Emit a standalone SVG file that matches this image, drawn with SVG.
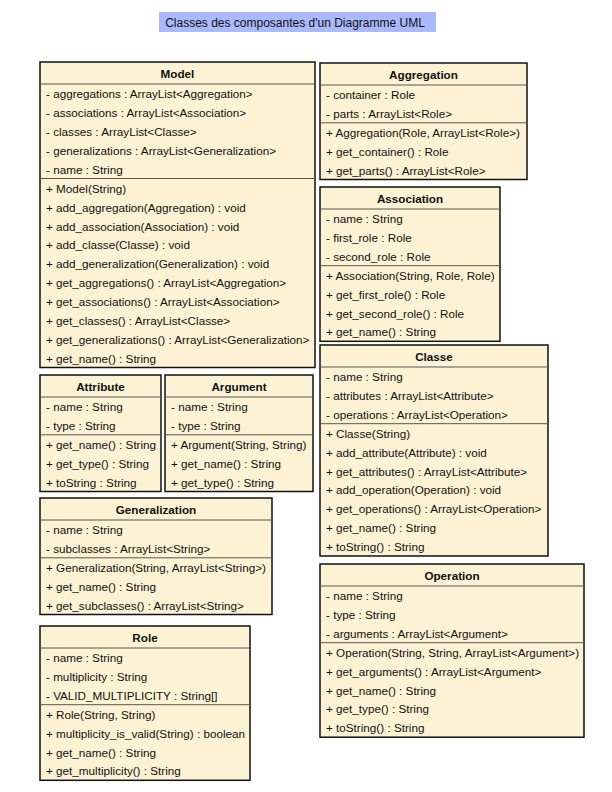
<svg xmlns="http://www.w3.org/2000/svg" width="612" height="792" viewBox="0 0 612 792">
<style>
.box{fill:#fdf3d4;stroke:#111;stroke-width:1.5}
.sep{stroke:#555;stroke-width:1}
.t{font-family:"Liberation Sans",Arial,sans-serif;font-size:11.7px;fill:#111}
.h{font-family:"Liberation Sans",Arial,sans-serif;font-size:11.7px;font-weight:bold;fill:#111;text-anchor:middle}
.title{font-family:"Liberation Sans",Arial,sans-serif;font-size:12px;fill:#111;text-anchor:middle}
</style>
<rect width="612" height="792" fill="#fff"/>
<g id="title">
<rect x="159" y="12" width="277" height="20" fill="#a9b9fb"/>
<text class="title" x="295" y="26.5">Classes des composantes d'un Diagramme UML</text>
</g>

<g id="Model" transform="translate(0,0.8)">
<rect class="box" x="40" y="61.2" width="275" height="305.5"/>
<line class="sep" x1="40" y1="83.2" x2="315" y2="83.2"/>
<line class="sep" x1="40" y1="177.7" x2="315" y2="177.7"/>
<text class="h" x="177.5" y="77">Model</text>
<text class="t" x="46" y="97.5">- aggregations : ArrayList&lt;Aggregation&gt;</text>
<text class="t" x="46" y="116.4">- associations : ArrayList&lt;Association&gt;</text>
<text class="t" x="46" y="135.3">- classes : ArrayList&lt;Classe&gt;</text>
<text class="t" x="46" y="154.2">- generalizations : ArrayList&lt;Generalization&gt;</text>
<text class="t" x="46" y="173.1">- name : String</text>
<text class="t" x="46" y="192">+ Model(String)</text>
<text class="t" x="46" y="210.9">+ add_aggregation(Aggregation) : void</text>
<text class="t" x="46" y="229.8">+ add_association(Association) : void</text>
<text class="t" x="46" y="248.7">+ add_classe(Classe) : void</text>
<text class="t" x="46" y="267.6">+ add_generalization(Generalization) : void</text>
<text class="t" x="46" y="286.5">+ get_aggregations() : ArrayList&lt;Aggregation&gt;</text>
<text class="t" x="46" y="305.4">+ get_associations() : ArrayList&lt;Association&gt;</text>
<text class="t" x="46" y="324.3">+ get_classes() : ArrayList&lt;Classe&gt;</text>
<text class="t" x="46" y="343.2">+ get_generalizations() : ArrayList&lt;Generalization&gt;</text>
<text class="t" x="46" y="362.1">+ get_name() : String</text>
</g>

<g id="Aggregation">
<rect class="box" x="320" y="63" width="207" height="116.5"/>
<line class="sep" x1="320" y1="85" x2="527" y2="85"/>
<line class="sep" x1="320" y1="122.8" x2="527" y2="122.8"/>
<text class="h" x="423.5" y="78.5">Aggregation</text>
<text class="t" x="326" y="99">- container : Role</text>
<text class="t" x="326" y="117.9">- parts : ArrayList&lt;Role&gt;</text>
<text class="t" x="326" y="136.8">+ Aggregation(Role, ArrayList&lt;Role&gt;)</text>
<text class="t" x="326" y="155.7">+ get_container() : Role</text>
<text class="t" x="326" y="174.6">+ get_parts() : ArrayList&lt;Role&gt;</text>
</g>

<g id="Association">
<rect class="box" x="320" y="187" width="180" height="154.3"/>
<line class="sep" x1="320" y1="209" x2="500" y2="209"/>
<line class="sep" x1="320" y1="265.7" x2="500" y2="265.7"/>
<text class="h" x="410" y="202.5">Association</text>
<text class="t" x="326" y="223">- name : String</text>
<text class="t" x="326" y="241.9">- first_role : Role</text>
<text class="t" x="326" y="260.8">- second_role : Role</text>
<text class="t" x="326" y="279.7">+ Association(String, Role, Role)</text>
<text class="t" x="326" y="298.6">+ get_first_role() : Role</text>
<text class="t" x="326" y="317.5">+ get_second_role() : Role</text>
<text class="t" x="326" y="336.4">+ get_name() : String</text>
</g>

<g id="Classe">
<rect class="box" x="320" y="345" width="228" height="211"/>
<line class="sep" x1="320" y1="367" x2="548" y2="367"/>
<line class="sep" x1="320" y1="423.7" x2="548" y2="423.7"/>
<text class="h" x="434" y="360.5">Classe</text>
<text class="t" x="326" y="381">- name : String</text>
<text class="t" x="326" y="399.9">- attributes : ArrayList&lt;Attribute&gt;</text>
<text class="t" x="326" y="418.8">- operations : ArrayList&lt;Operation&gt;</text>
<text class="t" x="326" y="437.7">+ Classe(String)</text>
<text class="t" x="326" y="456.6">+ add_attribute(Attribute) : void</text>
<text class="t" x="326" y="475.5">+ get_attributes() : ArrayList&lt;Attribute&gt;</text>
<text class="t" x="326" y="494.4">+ add_operation(Operation) : void</text>
<text class="t" x="326" y="513.3">+ get_operations() : ArrayList&lt;Operation&gt;</text>
<text class="t" x="326" y="532.2">+ get_name() : String</text>
<text class="t" x="326" y="551.1">+ toString() : String</text>
</g>

<g id="Operation">
<rect class="box" x="320" y="564" width="264" height="173.2"/>
<line class="sep" x1="320" y1="586" x2="584" y2="586"/>
<line class="sep" x1="320" y1="642.7" x2="584" y2="642.7"/>
<text class="h" x="452" y="579.5">Operation</text>
<text class="t" x="326" y="600">- name : String</text>
<text class="t" x="326" y="618.9">- type : String</text>
<text class="t" x="326" y="637.8">- arguments : ArrayList&lt;Argument&gt;</text>
<text class="t" x="326" y="656.7">+ Operation(String, String, ArrayList&lt;Argument&gt;)</text>
<text class="t" x="326" y="675.6">+ get_arguments() : ArrayList&lt;Argument&gt;</text>
<text class="t" x="326" y="694.5">+ get_name() : String</text>
<text class="t" x="326" y="713.4">+ get_type() : String</text>
<text class="t" x="326" y="732.3">+ toString() : String</text>
</g>

<g id="Attribute">
<rect class="box" x="40" y="375" width="121" height="116.5"/>
<line class="sep" x1="40" y1="397" x2="161" y2="397"/>
<line class="sep" x1="40" y1="434.8" x2="161" y2="434.8"/>
<text class="h" x="100.5" y="390.5">Attribute</text>
<text class="t" x="46" y="411">- name : String</text>
<text class="t" x="46" y="429.9">- type : String</text>
<text class="t" x="46" y="448.8">+ get_name() : String</text>
<text class="t" x="46" y="467.7">+ get_type() : String</text>
<text class="t" x="46" y="486.6">+ toString : String</text>
</g>

<g id="Argument">
<rect class="box" x="165" y="375" width="148" height="116.5"/>
<line class="sep" x1="165" y1="397" x2="313" y2="397"/>
<line class="sep" x1="165" y1="434.8" x2="313" y2="434.8"/>
<text class="h" x="239" y="390.5">Argument</text>
<text class="t" x="171" y="411">- name : String</text>
<text class="t" x="171" y="429.9">- type : String</text>
<text class="t" x="171" y="448.8">+ Argument(String, String)</text>
<text class="t" x="171" y="467.7">+ get_name() : String</text>
<text class="t" x="171" y="486.6">+ get_type() : String</text>
</g>

<g id="Generalization">
<rect class="box" x="40" y="498" width="232" height="116.5"/>
<line class="sep" x1="40" y1="520" x2="272" y2="520"/>
<line class="sep" x1="40" y1="557.8" x2="272" y2="557.8"/>
<text class="h" x="156" y="513.5">Generalization</text>
<text class="t" x="46" y="534">- name : String</text>
<text class="t" x="46" y="552.9">- subclasses : ArrayList&lt;String&gt;</text>
<text class="t" x="46" y="571.8">+ Generalization(String, ArrayList&lt;String&gt;)</text>
<text class="t" x="46" y="590.7">+ get_name() : String</text>
<text class="t" x="46" y="609.6">+ get_subclasses() : ArrayList&lt;String&gt;</text>
</g>

<g id="Role">
<rect class="box" x="40" y="626" width="210" height="154.3"/>
<line class="sep" x1="40" y1="648" x2="250" y2="648"/>
<line class="sep" x1="40" y1="704.7" x2="250" y2="704.7"/>
<text class="h" x="145" y="641.5">Role</text>
<text class="t" x="46" y="662">- name : String</text>
<text class="t" x="46" y="680.9">- multiplicity : String</text>
<text class="t" x="46" y="699.8">- VALID_MULTIPLICITY : String[]</text>
<text class="t" x="46" y="718.7">+ Role(String, String)</text>
<text class="t" x="46" y="737.6">+ multiplicity_is_valid(String) : boolean</text>
<text class="t" x="46" y="756.5">+ get_name() : String</text>
<text class="t" x="46" y="775.4">+ get_multiplicity() : String</text>
</g>

<g id="connectors"></g>
</svg>
